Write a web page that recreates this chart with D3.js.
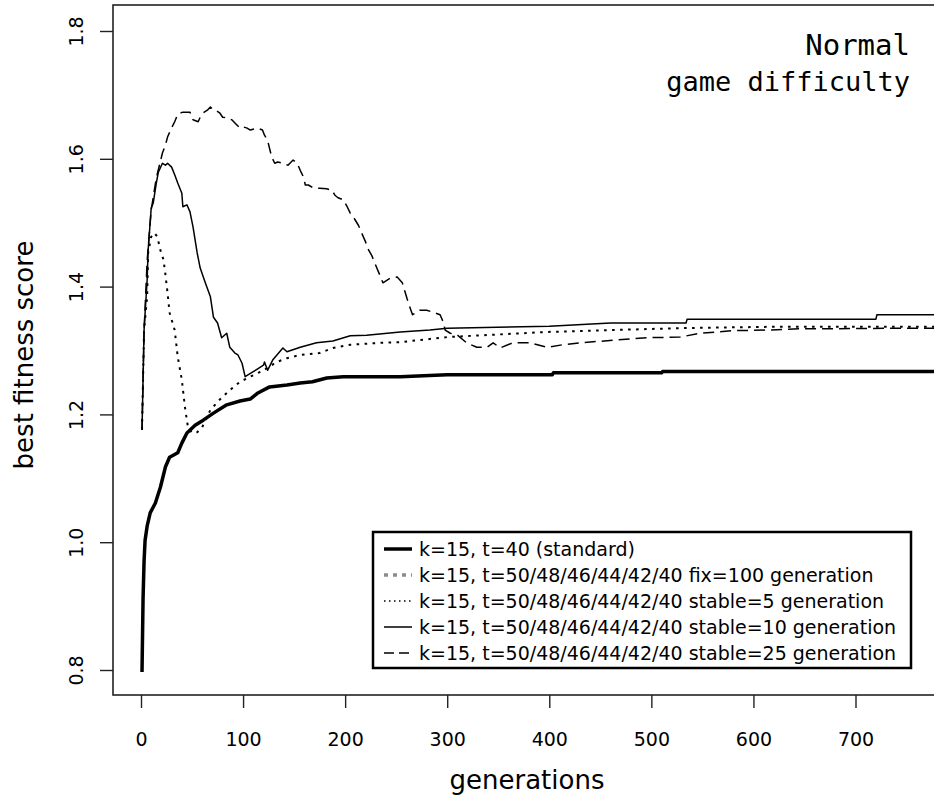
<!DOCTYPE html>
<html>
<head>
<meta charset="utf-8">
<script src="https://cdn.jsdelivr.net/npm/d3@7/dist/d3.min.js"></script>
<style>
  html, body { margin: 0; padding: 0; background: #fff; }
  svg { display: block; }
</style>
</head>
<body>
<svg id="chart" width="934" height="798"></svg>
<script>
// ---------------- DATA ----------------
const xTicks = [0, 100, 200, 300, 400, 500, 600, 700];
const yTicks = [0.8, 1.0, 1.2, 1.4, 1.6, 1.8];

const titleLines = ["Normal", "game difficulty"];
const xTitle = "generations";
const yTitle = "best fitness score";

const legendLabels = [
  "k=15, t=40 (standard)",
  "k=15, t=50/48/46/44/42/40 fix=100 generation",
  "k=15, t=50/48/46/44/42/40 stable=5 generation",
  "k=15, t=50/48/46/44/42/40 stable=10 generation",
  "k=15, t=50/48/46/44/42/40 stable=25 generation"
];

// k=15, t=40 (standard)
const stdGen = [1,2,3,4,6,9,14,19,24,28,36,40,45,53,61,71,84,97,107,114,126,143,156,168,182,198,254,300,403,404,510,511,780];
const stdVal = [0.797,0.91,0.97,1.003,1.025,1.046,1.061,1.086,1.118,1.133,1.14,1.155,1.171,1.183,1.191,1.202,1.215,1.221,1.224,1.233,1.243,1.246,1.249,1.251,1.257,1.259,1.259,1.262,1.262,1.265,1.265,1.267,1.267];

// stable=5 generation
const s5Gen = [1,2,3,6,7,10,13,16,19,22,24,26,28,33,36,40,43,46,50,55,60,68,77,87,97,107,120,133,143,156,175,188,205,234,254,300,398,462,528,613,744,780];
const s5Val = [1.176,1.254,1.332,1.384,1.453,1.478,1.484,1.478,1.457,1.442,1.418,1.39,1.359,1.332,1.29,1.254,1.212,1.18,1.171,1.172,1.18,1.207,1.223,1.238,1.251,1.259,1.269,1.282,1.288,1.293,1.296,1.304,1.309,1.312,1.313,1.321,1.329,1.332,1.335,1.337,1.337,1.337];

// stable=10 generation
const s10Gen = [1,2,3,6,7,10,12,15,17,21,24,26,30,33,36,40,41,45,48,51,55,58,63,68,71,75,79,84,87,92,95,99,102,112,120,121,124,129,139,143,156,172,188,205,221,254,283,300,400,460,534,535,720,721,780];
const s10Val = [1.176,1.254,1.332,1.41,1.457,1.523,1.531,1.562,1.579,1.593,1.59,1.593,1.587,1.575,1.562,1.546,1.525,1.528,1.517,1.493,1.453,1.429,1.406,1.384,1.352,1.343,1.32,1.327,1.305,1.296,1.293,1.28,1.259,1.269,1.277,1.282,1.269,1.285,1.304,1.298,1.305,1.312,1.315,1.323,1.324,1.329,1.332,1.335,1.338,1.343,1.343,1.349,1.349,1.356,1.356];

// stable=25 generation
const s25Gen = [1,3,6,10,15,21,24,26,29,33,36,41,48,51,56,58,61,65,68,71,74,77,80,85,89,92,97,100,104,107,114,119,121,124,128,131,134,139,144,149,153,156,159,161,164,169,175,182,187,190,193,198,202,205,208,213,217,220,222,226,229,234,237,244,251,256,259,262,266,273,280,286,293,296,298,303,310,319,329,339,345,352,364,381,398,413,430,462,496,528,548,580,613,646,678,744,780];
const s25Val = [1.176,1.33,1.44,1.52,1.57,1.609,1.622,1.634,1.645,1.658,1.67,1.673,1.673,1.661,1.658,1.665,1.672,1.676,1.681,1.676,1.675,1.672,1.665,1.664,1.661,1.656,1.648,1.65,1.648,1.645,1.648,1.645,1.637,1.629,1.603,1.593,1.595,1.593,1.59,1.598,1.593,1.582,1.572,1.559,1.559,1.554,1.554,1.553,1.551,1.543,1.539,1.536,1.525,1.515,1.509,1.496,1.481,1.47,1.46,1.449,1.437,1.418,1.406,1.413,1.415,1.406,1.39,1.374,1.356,1.363,1.363,1.36,1.356,1.345,1.332,1.327,1.324,1.312,1.305,1.305,1.312,1.304,1.312,1.312,1.305,1.309,1.312,1.316,1.32,1.321,1.327,1.331,1.332,1.334,1.334,1.335,1.335];

// ---------------- CHART ----------------
const svg = d3.select("#chart");
const plot = { left: 113, top: 5, right: 940, bottom: 695 };

const x = d3.scaleLinear().domain([0, 700]).range([141, 855.5]);
const y = d3.scaleLinear().domain([0.8, 1.8]).range([670, 31]);

const FONT = "'DejaVu Sans', Verdana, sans-serif";
const MONO = "'DejaVu Sans Mono', 'Liberation Mono', monospace";

svg.append("defs").append("clipPath").attr("id", "clip")
  .append("rect")
  .attr("x", plot.left).attr("y", plot.top)
  .attr("width", plot.right - plot.left).attr("height", plot.bottom - plot.top);

// plot box
svg.append("rect")
  .attr("x", plot.left).attr("y", plot.top)
  .attr("width", plot.right - plot.left).attr("height", plot.bottom - plot.top)
  .attr("fill", "none").attr("stroke", "#222").attr("stroke-width", 1.6);

// x axis ticks & labels
const xAxis = d3.axisBottom(x).tickValues(xTicks).tickSize(13).tickSizeOuter(0);
const gx = svg.append("g").attr("transform", `translate(0,${plot.bottom})`).call(xAxis);
gx.select(".domain").remove();
gx.selectAll(".tick line").attr("stroke", "#222").attr("stroke-width", 1.4);
gx.selectAll(".tick text")
  .attr("font-family", FONT).attr("font-size", 19).attr("fill", "#000")
  .attr("y", 51).attr("dy", null);

// y axis ticks & labels (rotated, R style)
const yAxis = d3.axisLeft(y).tickValues(yTicks).tickSize(13).tickSizeOuter(0).tickFormat(d3.format(".1f"));
const gy = svg.append("g").attr("transform", `translate(${plot.left},0)`).call(yAxis);
gy.select(".domain").remove();
gy.selectAll(".tick line").attr("stroke", "#222").attr("stroke-width", 1.4);
gy.selectAll(".tick text")
  .attr("font-family", FONT).attr("font-size", 19).attr("fill", "#000")
  .attr("text-anchor", "middle").attr("dy", null).attr("x", null)
  .attr("transform", "translate(-30,0) rotate(-90)");

// axis titles
svg.append("text")
  .attr("x", 527).attr("y", 789)
  .attr("text-anchor", "middle")
  .attr("font-family", FONT).attr("font-size", 26)
  .text(xTitle);
svg.append("text")
  .attr("transform", `translate(33,355) rotate(-90)`)
  .attr("text-anchor", "middle")
  .attr("font-family", FONT).attr("font-size", 26)
  .text(yTitle);

// series
const series = [
  { gen: stdGen, val: stdVal, width: 3.5, dash: null },
  { gen: s5Gen,  val: s5Val,  width: 2,   dash: "2.6,5.4" },
  { gen: s10Gen, val: s10Val, width: 1.5, dash: null },
  { gen: s25Gen, val: s25Val, width: 1.5, dash: "11,6" }
];
const line = d3.line().x(d => x(d[0])).y(d => y(d[1]));
const gLines = svg.append("g").attr("clip-path", "url(#clip)");
series.slice().reverse().forEach(s => {
  gLines.append("path")
    .datum(s.gen.map((g, i) => [g, s.val[i]]))
    .attr("d", line)
    .attr("fill", "none")
    .attr("stroke", "#000")
    .attr("stroke-width", s.width)
    .attr("stroke-linejoin", "round")
    .attr("stroke-dasharray", s.dash);
});

// title
svg.append("text")
  .attr("x", 910).attr("y", 55)
  .attr("text-anchor", "end")
  .attr("font-family", MONO).attr("font-size", 29)
  .text(titleLines[0]);
svg.append("text")
  .attr("x", 910).attr("y", 91)
  .attr("text-anchor", "end")
  .attr("font-family", MONO).attr("font-size", 27)
  .text(titleLines[1]);

// legend
const legStyles = [
  { color: "#000", width: 3.5, dash: null },
  { color: "#8c8c8c", width: 3.5, dash: "4,5" },
  { color: "#000", width: 1.5, dash: "1.5,3.5" },
  { color: "#000", width: 1.5, dash: null },
  { color: "#000", width: 1.5, dash: "10,5" }
];
const lg = svg.append("g");
lg.append("rect")
  .attr("x", 373).attr("y", 532).attr("width", 538).attr("height", 136)
  .attr("fill", "#fff").attr("stroke", "#000").attr("stroke-width", 2.5);
const rowY = d3.scaleLinear().domain([0, 4]).range([549, 653]);
legendLabels.forEach((lab, i) => {
  const st = legStyles[i];
  lg.append("line")
    .attr("x1", 384).attr("x2", 412)
    .attr("y1", rowY(i)).attr("y2", rowY(i))
    .attr("stroke", st.color).attr("stroke-width", st.width)
    .attr("stroke-dasharray", st.dash);
  lg.append("text")
    .attr("x", 419).attr("y", rowY(i))
    .attr("dominant-baseline", "central")
    .attr("font-family", FONT).attr("font-size", 19)
    .text(lab);
});
</script>
</body>
</html>
